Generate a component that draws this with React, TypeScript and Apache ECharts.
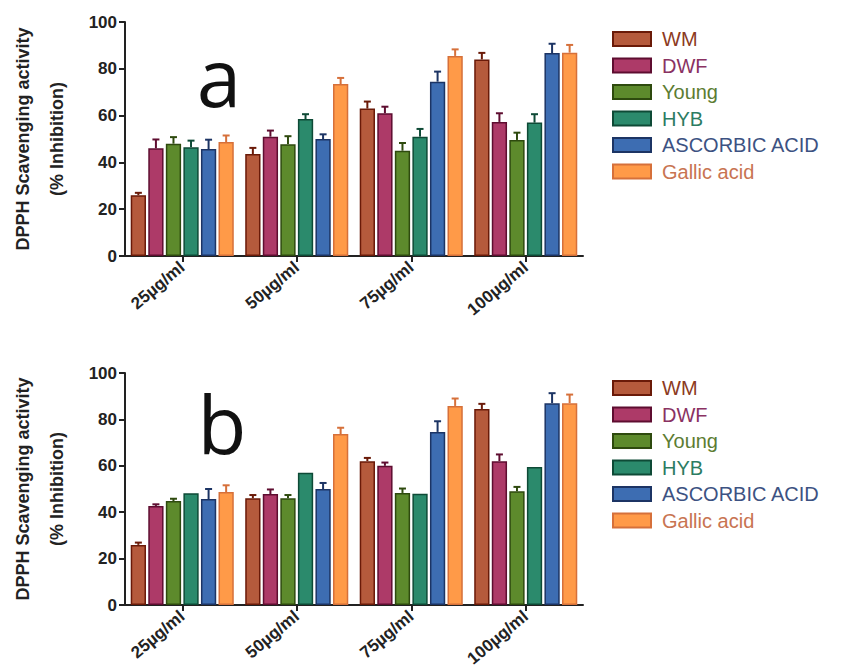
import React, { useEffect, useRef } from "react";
import * as echarts from "echarts";

const categories = ["25µg/ml", "50µg/ml", "75µg/ml", "100µg/ml"];
const seriesNames = ["WM", "DWF", "Young", "HYB", "ASCORBIC ACID", "Gallic acid"];

// Panel a values (per series, per category)
const aWM = [26, 43.6, 63, 84];
const aDWF = [46, 51, 61, 57.3];
const aYoung = [48, 47.8, 45, 49.6];
const aHYB = [46.5, 58.5, 51, 57];
const aASC = [45.7, 50, 74.5, 86.7];
const aGallic = [48.7, 73.5, 85.5, 86.9];
// Panel a errors
const aWMErr = [1, 2.6, 3, 2.8];
const aDWFErr = [3.8, 2.6, 2.8, 3.7];
const aYoungErr = [2.8, 3.4, 3.3, 3.1];
const aHYBErr = [2.8, 2.1, 3.3, 3.6];
const aASCErr = [4, 2, 4.3, 4];
const aGallicErr = [2.8, 2.6, 2.8, 3.3];

// Panel b values
const bWM = [25.9, 46, 62, 84.5];
const bDWF = [42.7, 47.8, 60, 62];
const bYoung = [44.8, 46, 48.3, 49];
const bHYB = [48.2, 57, 48, 59.5];
const bASC = [45.7, 50, 74.6, 87];
const bGallic = [48.7, 73.7, 85.8, 87];
// Panel b errors
const bWMErr = [1, 1.4, 1.4, 2.2];
const bDWFErr = [0.7, 2, 1.4, 2.9];
const bYoungErr = [1, 1.4, 1.9, 1.9];
const bHYBErr = [0, 0, 0, 0];
const bASCErr = [4.3, 2.6, 4.6, 4.3];
const bGallicErr = [2.9, 2.7, 3.2, 3.7];

const fillColors = ["#b55a3c", "#ad3a68", "#5d8a2c", "#2b8a6c", "#3d6db2", "#ff9a48"];
const borderColors = ["#6a1a08", "#5e0d30", "#2e4a0e", "#0e4a36", "#1c3464", "#d6703a"];
const legendTextColors = ["#8c3a22", "#8a3262", "#5c7c32", "#2c7c62", "#3c5282", "#c87452"];

const panelAValues = [aWM, aDWF, aYoung, aHYB, aASC, aGallic];
const panelAErrors = [aWMErr, aDWFErr, aYoungErr, aHYBErr, aASCErr, aGallicErr];
const panelBValues = [bWM, bDWF, bYoung, bHYB, bASC, bGallic];
const panelBErrors = [bWMErr, bDWFErr, bYoungErr, bHYBErr, bASCErr, bGallicErr];

const CAT_GAP = 0.1;
const BAR_GAP = 0.15;
const FONT = "'Liberation Sans', Arial, sans-serif";

function errorSeries(values: number[][], errors: number[][], gridIdx: number) {
  const data: number[][] = [];
  values.forEach((vals, k) => {
    vals.forEach((v, c) => {
      data.push([c, k, v, errors[k][c]]);
    });
  });
  return {
    type: "custom",
    xAxisIndex: gridIdx,
    yAxisIndex: gridIdx,
    silent: true,
    z: 1,
    encode: { x: 0, y: 2 },
    data,
    renderItem: (params: any, api: any) => {
      const c = api.value(0);
      const k = api.value(1);
      const v = api.value(2);
      const e = api.value(3);
      const catW = api.size([1, 0])[0];
      const band = catW * (1 - CAT_GAP);
      const bw = band / (6 + 5 * BAR_GAP);
      const base = api.coord([c, v]);
      const top = api.coord([c, v + e]);
      const x = base[0] - band / 2 + bw / 2 + k * bw * (1 + BAR_GAP);
      const color = borderColors[k];
      if (e <= 0) return { type: "group", children: [] };
      return {
        type: "group",
        children: [
          { type: "line", shape: { x1: x, y1: base[1], x2: x, y2: top[1] }, style: { stroke: color, lineWidth: 2 } },
          { type: "line", shape: { x1: x - 3.5, y1: top[1], x2: x + 3.5, y2: top[1] }, style: { stroke: color, lineWidth: 2 } },
        ],
      };
    },
  };
}

function barSeries(values: number[][], gridIdx: number) {
  return values.map((vals, k) => ({
    type: "bar",
    name: seriesNames[k],
    xAxisIndex: gridIdx,
    yAxisIndex: gridIdx,
    data: vals,
    barCategoryGap: "10%",
    barGap: "15%",
    z: 2,
    itemStyle: { color: fillColors[k], borderColor: borderColors[k], borderWidth: 1.5 },
  }));
}

function makeXAxis(gridIndex: number) {
  return {
    type: "category",
    gridIndex,
    data: categories,
    axisLine: { show: true, lineStyle: { color: "#222", width: 2 } },
    axisTick: { show: true, alignWithLabel: true, length: 6, lineStyle: { color: "#222", width: 2 } },
    axisLabel: { rotate: 40, fontSize: 17, fontWeight: "bold", color: "#222", fontFamily: FONT, margin: 9 },
  };
}

function makeYAxis(gridIndex: number) {
  return {
    type: "value",
    gridIndex,
    min: 0,
    max: 100,
    interval: 20,
    axisLine: { show: true, lineStyle: { color: "#222", width: 2 } },
    axisTick: { show: true, length: 6, lineStyle: { color: "#222", width: 2 } },
    axisLabel: { fontSize: 17, fontWeight: "bold", color: "#222", fontFamily: FONT, margin: 8 },
    splitLine: { show: false },
  };
}

function makeLegend(top: number) {
  return {
    orient: "vertical",
    left: 607,
    top,
    icon: "rect",
    itemWidth: 38,
    itemHeight: 14,
    itemGap: 6.5,
    selectedMode: false,
    textStyle: { fontSize: 20, lineHeight: 20, fontFamily: FONT, padding: [0, 0, 0, 6] },
    data: seriesNames.map((n, i) => ({ name: n, textStyle: { color: legendTextColors[i] } })),
  };
}

function yTitle(cy: number) {
  return [
    {
      type: "text",
      x: 23,
      y: cy,
      rotation: Math.PI / 2,
      style: { text: "DPPH Scavenging activity", font: `bold 18px ${FONT}`, fill: "#222", align: "center", verticalAlign: "middle" },
    },
    {
      type: "text",
      x: 57,
      y: cy,
      rotation: Math.PI / 2,
      style: { text: "(% Inhibition)", font: `bold 18px ${FONT}`, fill: "#222", align: "center", verticalAlign: "middle" },
    },
  ];
}

export default function App() {
  const ref = useRef<HTMLDivElement>(null);
  useEffect(() => {
    if (!ref.current) return;
    const chart = echarts.init(ref.current, null, { renderer: "svg" });
    chart.setOption({
      animation: false,
      backgroundColor: "#ffffff",
      grid: [
        { left: 125, right: 281, top: 22, height: 234 },
        { left: 125, right: 281, top: 373, height: 232 },
      ],
      xAxis: [makeXAxis(0), makeXAxis(1)],
      yAxis: [makeYAxis(0), makeYAxis(1)],
      legend: [makeLegend(24), makeLegend(373)],
      graphic: [
        ...yTitle(139),
        ...yTitle(489),
        { type: "text", z: 100, x: 219, y: 75, style: { text: "a", font: `80px 'Open Sans', sans-serif`, fill: "#111", align: "center", verticalAlign: "middle" } },
        { type: "text", z: 100, x: 222, y: 422, style: { text: "b", font: `80px 'Open Sans', sans-serif`, fill: "#111", align: "center", verticalAlign: "middle" } },
      ],
      series: [
        ...barSeries(panelAValues, 0),
        errorSeries(panelAValues, panelAErrors, 0),
        ...barSeries(panelBValues, 1),
        errorSeries(panelBValues, panelBErrors, 1),
      ],
    });
    return () => chart.dispose();
  }, []);
  return <div ref={ref} style={{ width: 864, height: 670, position: "absolute", left: 0, top: 0 }} />;
}
